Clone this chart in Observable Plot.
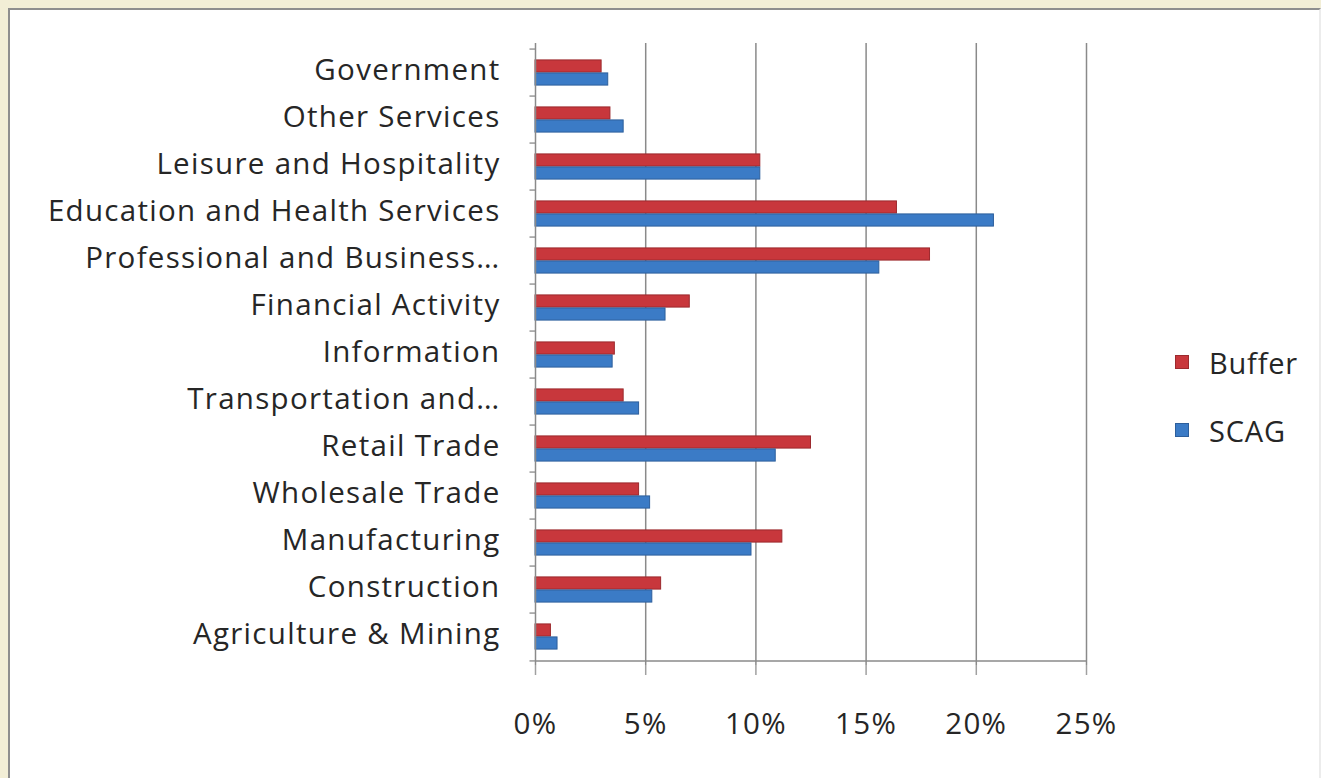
<!DOCTYPE html>
<html>
<head>
<meta charset="utf-8">
<script src="https://cdn.jsdelivr.net/npm/d3@7"></script>
<script src="https://cdn.jsdelivr.net/npm/@observablehq/plot@0.6"></script>
<style>
  html, body { margin: 0; padding: 0; }
  body { width: 1321px; height: 778px; background: #f2eed6; position: relative; overflow: hidden; font-family: "Open Sans", Lato, sans-serif; }
  #frame { position: absolute; left: 8px; top: 8px; width: 1309px; height: 768px; background: #ffffff; border: 2px solid #8e8e8e; border-right-color: #ececec; border-bottom-color: #f4f4f4; box-sizing: content-box; }
  #chart { position: absolute; left: 0; top: 0; }
  #legend { position: absolute; left: 1175px; top: 340px; font-size: 29px; letter-spacing: 0.8px; color: #262626; }
  .item { display: flex; align-items: center; height: 44px; margin-bottom: 24px; }
  .sw { width: 12px; height: 12px; margin-right: 20px; }
  #chart svg text { letter-spacing: 1.3px; }
</style>
</head>
<body>
<div id="frame"></div>
<div id="chart"></div>
<div id="legend"></div>
<script>
const categories = [
  "Government",
  "Other Services",
  "Leisure and Hospitality",
  "Education and Health Services",
  "Professional and Business…",
  "Financial Activity",
  "Information",
  "Transportation and…",
  "Retail Trade",
  "Wholesale Trade",
  "Manufacturing",
  "Construction",
  "Agriculture & Mining"
];
const bufferValues = [3.0, 3.4, 10.2, 16.4, 17.9, 7.0, 3.6, 4.0, 12.5, 4.7, 11.2, 5.7, 0.7];
const scagValues   = [3.3, 4.0, 10.2, 20.8, 15.6, 5.9, 3.5, 4.7, 10.9, 5.2, 9.8, 5.3, 1.0];
const xTicks = [0, 5, 10, 15, 20, 25];
const seriesNames = ["Buffer", "SCAG"];
const seriesColors = ["#c8373c", "#3b7bc6"];
const seriesStrokes = ["#9c2a2e", "#2d5f9c"];

const bufferData = categories.map((c, i) => ({category: c, value: bufferValues[i]}));
const scagData = categories.map((c, i) => ({category: c, value: scagValues[i]}));

const W = 1321, H = 778;
const mTop = 43, mBottom = 113, mLeft = 535, mRight = 235;
const band = (H - mTop - mBottom) / categories.length;
const barH = 13;
const outer = band / 2 - barH;

const boundaryData = categories.map(c => ({category: c}));
const fontFam = "'Open Sans', Lato, sans-serif";

const plot = Plot.plot({
  width: W,
  height: H,
  marginTop: mTop,
  marginBottom: mBottom,
  marginLeft: mLeft,
  marginRight: mRight,
  style: {background: "transparent", fontFamily: fontFam, overflow: "visible"},
  x: {domain: [0, 25], ticks: xTicks, label: null},
  y: {domain: categories, padding: 0, label: null},
  marks: [
    Plot.ruleX(xTicks.slice(1), {stroke: "#8a8a8a", strokeWidth: 1.5}),
    Plot.axisX({ticks: xTicks, tickSize: 10, tickPadding: 38, stroke: "#a0a0a0", strokeWidth: 1.5,
      tickFormat: d => d + "%", fontSize: 29.5, fill: "#262626", label: null}),
    Plot.barX(bufferData, {y: "category", x: "value", fill: seriesColors[0], stroke: seriesStrokes[0], strokeWidth: 1,
      insetTop: outer, insetBottom: band / 2}),
    Plot.barX(scagData, {y: "category", x: "value", fill: seriesColors[1], stroke: seriesStrokes[1], strokeWidth: 1,
      insetTop: band / 2, insetBottom: outer}),
    Plot.ruleY(boundaryData, {y: "category", x1: -0.25, x2: 0, dy: -band / 2, stroke: "#9a9a9a", strokeWidth: 1.5}),
    Plot.ruleY(boundaryData.slice(-1), {y: "category", x1: -0.25, x2: 0, dy: band / 2, stroke: "#9a9a9a", strokeWidth: 1.5}),
    Plot.ruleX([0], {stroke: "#8a8a8a", strokeWidth: 1.5}),
    Plot.ruleY([0], {y: () => categories[categories.length - 1], x1: 0, x2: 25, dy: band / 2, stroke: "#8a8a8a", strokeWidth: 1.5}),
    Plot.axisY({tickSize: 0, tickPadding: 35, dy: -2, fontSize: 29.5, fill: "#262626", label: null, textAnchor: "end"})
  ]
});
document.getElementById("chart").appendChild(plot);

const legend = document.getElementById("legend");
seriesNames.forEach((n, i) => {
  const item = document.createElement("div");
  item.className = "item";
  const sw = document.createElement("div");
  sw.className = "sw";
  sw.style.background = seriesColors[i];
  sw.style.border = "1px solid " + seriesStrokes[i];
  const t = document.createElement("span");
  t.textContent = n;
  item.appendChild(sw);
  item.appendChild(t);
  legend.appendChild(item);
});
</script>
</body>
</html>
